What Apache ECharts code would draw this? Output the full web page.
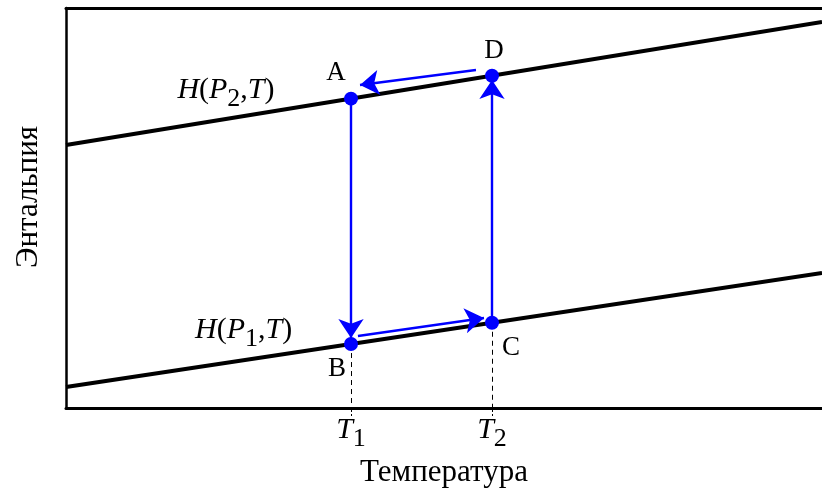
<!DOCTYPE html>
<html>
<head>
<meta charset="utf-8">
<script src="https://cdn.jsdelivr.net/npm/echarts@6/dist/echarts.min.js"></script>
<style>
  html, body { margin: 0; padding: 0; background: #fff; }
  #chart { width: 822px; height: 493px; }
</style>
</head>
<body>
<div id="chart"></div>
<script>
// Temperatures marked on the axis (T1, T2)
const tempTicks = [3.77, 5.635];
const tempTickNames = ['1', '2'];

// Enthalpy isobars H(P,T): endpoints across the temperature range
const isobarHigh = [[0, 6.575], [10, 9.65]];
const isobarLow = [[0, 0.525], [10, 3.375]];

// State points of the cycle
const pointNames = ['A', 'D', 'B', 'C'];
const pointX = [3.77, 5.635, 3.77, 5.635];
const pointY = [7.734, 8.308, 1.599, 2.131];

// Process arrows: A→B, B→C, C→D, D→A
const arrowFrom = [[3.77, 7.625], [3.862, 1.80], [5.635, 2.25], [5.423, 8.45]];
const arrowTo = [[3.77, 1.75], [5.529, 2.25], [5.635, 8.20], [3.889, 8.075]];

// Isobar captions
const isobarLabelPos = [[2.116, 7.95], [2.35, 1.95]];
const isobarLabelSub = ['2', '1'];

const serif = '"Liberation Serif", "DejaVu Serif", serif';
const blue = '#0000ff';

const labelOffsets = {A: [-15, -26], D: [2, -25], B: [-14, 25], C: [19, 25]};

const chart = echarts.init(document.getElementById('chart'));

const mathRich = {
  i: { fontFamily: serif, fontStyle: 'italic', fontSize: 30, color: '#000', lineHeight: 32 },
  n: { fontFamily: serif, fontSize: 30, color: '#000', lineHeight: 32 },
  sub: { fontFamily: serif, fontSize: 26, color: '#000', lineHeight: 32, padding: [18, 0, 0, 0] }
};

chart.setOption({
  animation: false,
  backgroundColor: '#fff',
  grid: { left: 66, right: 0, top: 8, bottom: 85, containLabel: false },
  xAxis: [{
    type: 'value', min: 0, max: 10, position: 'bottom',
    axisLine: { show: true, onZero: false, lineStyle: { color: '#000', width: 3 } },
    splitLine: { show: false },
    axisTick: { show: true, customValues: tempTicks, length: 8, lineStyle: { color: '#000', width: 1, type: 'dashed' } },
    axisLabel: {
      show: true, customValues: tempTicks, margin: 6,
      formatter: v => '{i|T}{sub|' + tempTickNames[tempTicks.indexOf(v)] + '}',
      rich: mathRich
    },
    name: 'Температура', nameLocation: 'middle', nameGap: 44,
    nameTextStyle: { fontFamily: serif, fontSize: 31, color: '#000' }
  }, {
    type: 'value', min: 0, max: 10, position: 'top',
    axisLine: { show: true, onZero: false, lineStyle: { color: '#000', width: 3 } },
    axisTick: { show: false }, axisLabel: { show: false }, splitLine: { show: false }
  }],
  yAxis: {
    type: 'value', min: 0, max: 10,
    axisLine: { show: true, onZero: false, lineStyle: { color: '#000', width: 2.5 } },
    axisTick: { show: false }, axisLabel: { show: false }, splitLine: { show: false },
    name: 'Энтальпия', nameLocation: 'middle', nameGap: 22, nameRotate: 90,
    nameTextStyle: { fontFamily: serif, fontSize: 31, color: '#000', padding: [0, 0, 0, 22] }
  },
  series: [
    {
      type: 'line', data: isobarHigh, symbol: 'none', silent: true,
      lineStyle: { color: '#000', width: 4 }, z: 2
    },
    {
      type: 'line', data: isobarLow, symbol: 'none', silent: true,
      lineStyle: { color: '#000', width: 4 }, z: 2
    },
    // dashed drop lines from B and C to the temperature axis
    {
      type: 'lines', coordinateSystem: 'cartesian2d', silent: true, z: 1,
      lineStyle: { color: '#000', width: 1, type: [5, 4], opacity: 1 },
      symbol: 'none',
      data: [
        { coords: [[pointX[2], pointY[2]], [pointX[2], 0]] },
        { coords: [[pointX[3], pointY[3]], [pointX[3], 0]] }
      ]
    },
    // cycle arrows
    {
      type: 'lines', coordinateSystem: 'cartesian2d', silent: true, z: 4,
      lineStyle: { color: blue, width: 2.4, opacity: 1, curveness: 0 },
      symbol: ['none', 'arrow'], symbolSize: [12, 19],
      data: arrowFrom.map((p, k) => ({ coords: [p, arrowTo[k]] }))
    },
    // state points with letters
    {
      type: 'scatter', z: 5, symbol: 'circle', symbolSize: 14,
      itemStyle: { color: blue, opacity: 1 },
      data: pointNames.map((n, k) => ({
        value: [pointX[k], pointY[k]],
        label: {
          show: true, formatter: n, position: 'inside',
          offset: labelOffsets[n],
          fontFamily: serif, fontSize: 27, color: '#000'
        }
      }))
    },
    // isobar captions
    {
      type: 'scatter', z: 5, symbolSize: 0, silent: true,
      itemStyle: { opacity: 1, color: '#000' },
      data: isobarLabelPos.map((p, k) => ({
        value: p,
        label: {
          show: true, position: 'inside',
          formatter: '{i|H}{n|(}{i|P}{sub|' + isobarLabelSub[k] + '}{n|,}{i|T}{n|)}',
          rich: mathRich
        }
      }))
    }
  ]
});
</script>
</body>
</html>
